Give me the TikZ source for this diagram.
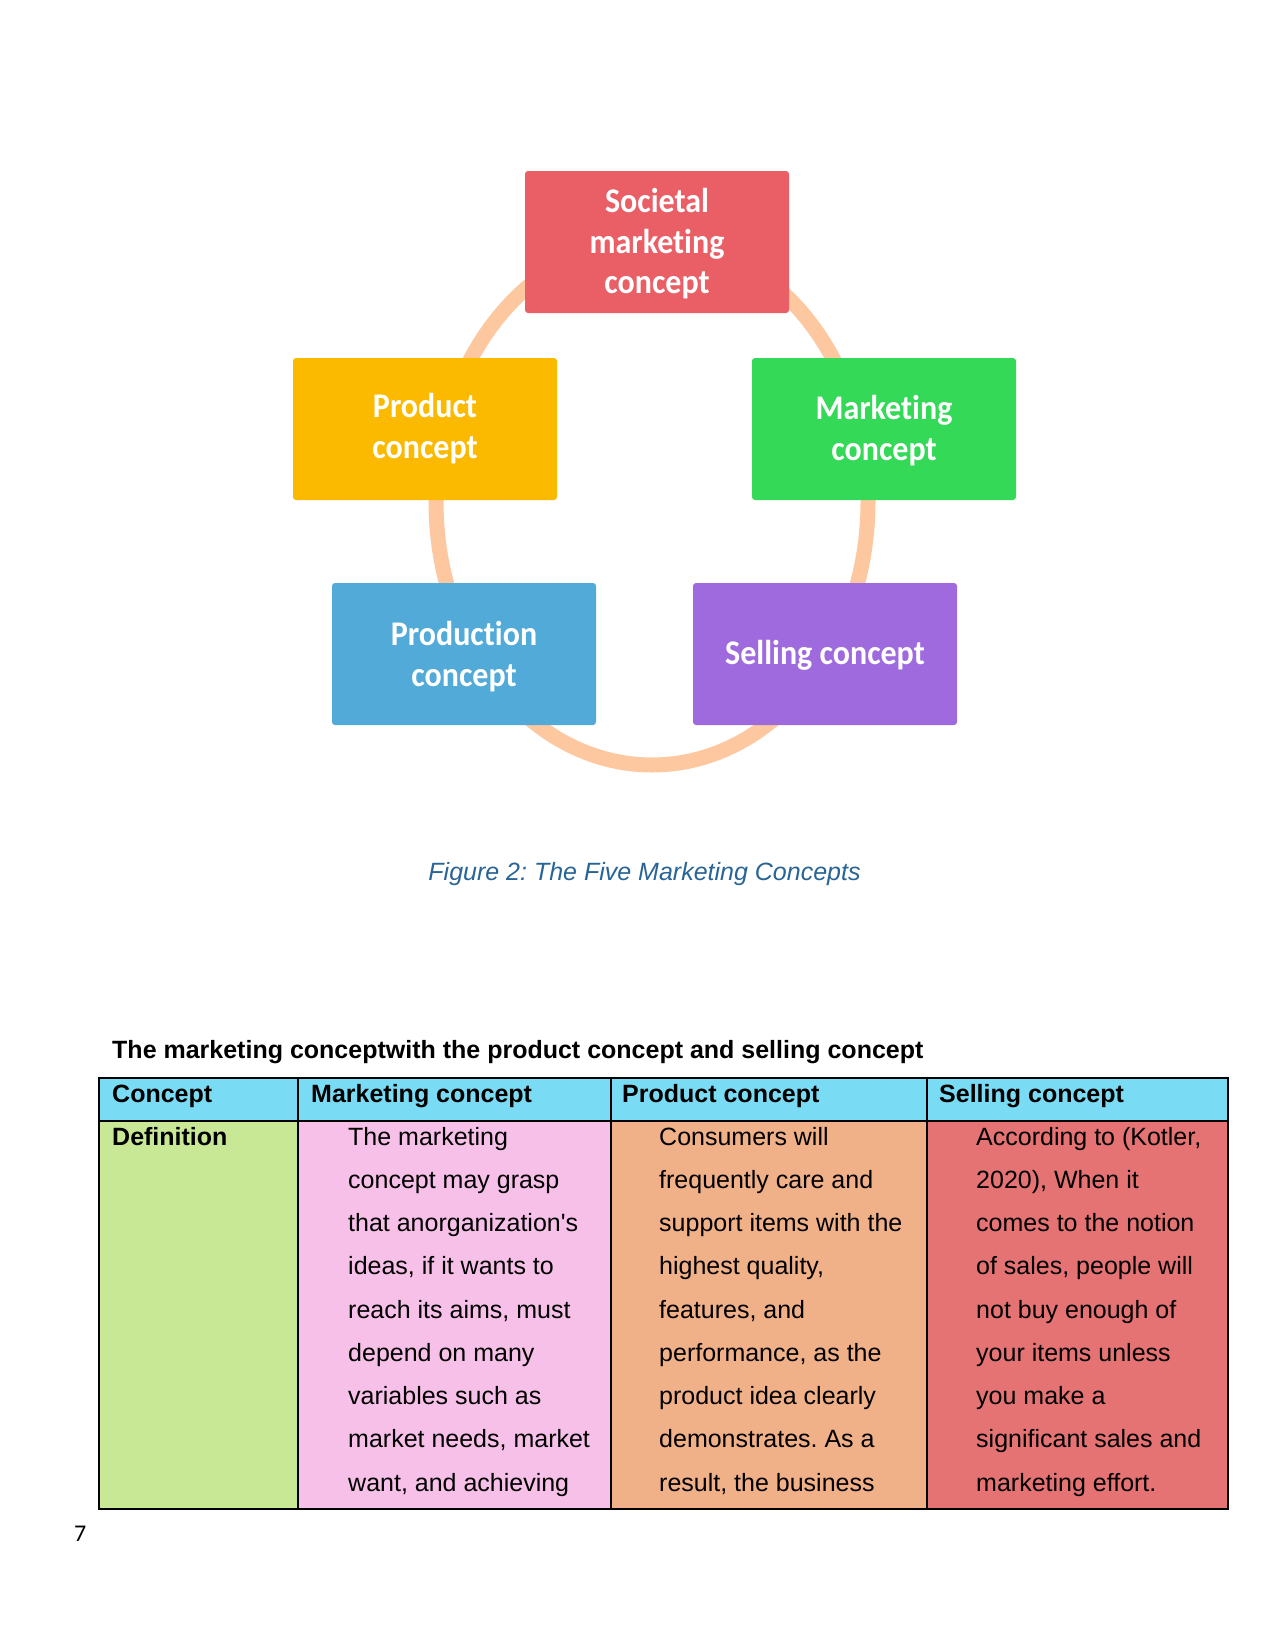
\documentclass[tikz,border=0pt]{standalone}
\usepackage{fontspec}
\newfontfamily\boxfont{Carlito}[RawFeature={-liga}]
\newfontfamily\arial{Liberation Sans}
\frenchspacing
\newcommand{\bxtext}[2]{\raisebox{#1}[\height][\depth]{\scalebox{1}[1.08]{\begin{tabular}{@{}c@{}}#2\end{tabular}}}}
\definecolor{socC}{RGB}{234,94,102}
\definecolor{prodC}{RGB}{251,186,0}
\definecolor{mktC}{RGB}{52,217,87}
\definecolor{prdnC}{RGB}{82,170,216}
\definecolor{selC}{RGB}{160,106,223}
\definecolor{ringC}{RGB}{253,200,160}
\definecolor{capC}{RGB}{40,100,150}
\definecolor{hdrC}{RGB}{121,219,244}
\definecolor{defC}{RGB}{200,232,150}
\definecolor{pinkC}{RGB}{247,192,232}
\definecolor{orgC}{RGB}{240,176,136}
\definecolor{redC}{RGB}{229,115,115}
\tikzset{
  cbox/.style={rounded corners=3pt, minimum width=264pt, minimum height=142pt,
    text=white, align=center, inner sep=0pt,
    font=\boxfont\bfseries\fontsize{32}{37.5}\selectfont},
  ring/.style={draw=ringC, line width=15pt},
  bodytxt/.style={anchor=base west, inner sep=0pt, font=\arial\fontsize{25}{30}\selectfont},
  hdrtxt/.style={anchor=base west, inner sep=0pt, font=\arial\bfseries\fontsize{25}{30}\selectfont},
  grid/.style={draw=black, line width=1.3pt}
}
\begin{document}
\begin{tikzpicture}[x=1pt,y=-1pt]
\useasboundingbox[fill=white] (0,0) rectangle (1275,1651);
% ring
\draw[ring] (652,502) ellipse [x radius=216pt, y radius=263pt];
% boxes
\node[cbox, fill=socC] (soc) at (657,242) {\bxtext{-3pt}{Societal\\marketing\\concept}};
\node[cbox, fill=prodC] (prod) at (425,429) {\bxtext{-1pt}{Product\\concept}};
\node[cbox, fill=mktC] (mkt) at (884,429) {\bxtext{-3pt}{Marketing\\concept}};
\node[cbox, fill=prdnC] (prdn) at (464,654) {\bxtext{-4pt}{Production\\concept}};
\node[cbox, fill=selC] (sel) at (825,654) {\bxtext{-2pt}{Selling concept}};
% caption
\node[anchor=base, inner sep=0pt, text=capC, font=\arial\itshape\fontsize{25}{30}\selectfont] (cap) at (644.5,880) {Figure 2: The Five Marketing Concepts};
% title
\node[hdrtxt] (title) at (112,1058) {The marketing conceptwith the product concept and selling concept};
% table fills
\fill[hdrC] (99,1078) rectangle (1228,1121);
\fill[defC] (99,1121) rectangle (298,1509);
\fill[pinkC] (298,1121) rectangle (611,1509);
\fill[orgC] (611,1121) rectangle (927,1509);
\fill[redC] (927,1121) rectangle (1228,1509);
% grid
\draw[grid] (99,1078) rectangle (1228,1509);
\draw[grid] (99,1121) -- (1228,1121);
\draw[grid] (298,1078) -- (298,1509);
\draw[grid] (611,1078) -- (611,1509);
\draw[grid] (927,1078) -- (927,1509);
% header
\node[hdrtxt] (h1) at (112,1102) {Concept};
\node[hdrtxt] (h2) at (311,1102) {Marketing concept};
\node[hdrtxt] (h3) at (622,1102) {Product concept};
\node[hdrtxt] (h4) at (939,1102) {Selling concept};
\node[hdrtxt] (def) at (112,1145) {Definition};
% body columns
\foreach \t [count=\i] in {{The marketing},{concept may grasp},{that anorganization's},{ideas, if it wants to},{reach its aims, must},{depend on many},{variables such as},{market needs, market},{want, and achieving}}
  \node[bodytxt, name=mk\i] at (348,{1145+43.25*(\i-1)}) {\t};
\foreach \t [count=\i] in {{Consumers will},{frequently care and},{support items with the},{highest quality,},{features, and},{performance, as the},{product idea clearly},{demonstrates. As a},{result, the business}}
  \node[bodytxt, name=pc\i] at (659,{1145+43.25*(\i-1)}) {\t};
\foreach \t [count=\i] in {{According to (Kotler,},{2020), When it},{comes to the notion},{of sales, people will},{not buy enough of},{your items unless},{you make a},{significant sales and},{marketing effort.}}
  \node[bodytxt, name=sc\i] at (976,{1145+43.25*(\i-1)}) {\t};
% page number
\node[anchor=base west, inner sep=0pt, font=\boxfont\fontsize{24}{28}\selectfont] (pg) at (74,1541) {7};
\end{tikzpicture}
\end{document}
